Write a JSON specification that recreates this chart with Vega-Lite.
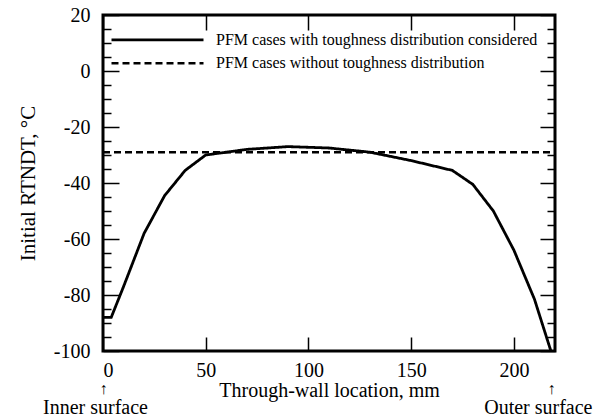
{
  "$schema": "https://vega.github.io/schema/vega-lite/v6.json",
  "width": 452,
  "height": 336,
  "autosize": {"type": "none"},
  "padding": {"left": 103, "top": 15, "right": 38, "bottom": 66},
  "background": "white",
  "config": {
    "font": "Liberation Serif",
    "view": {"stroke": "black", "strokeWidth": 3},
    "axis": {"grid": false, "domain": false, "tickColor": "black", "labelColor": "black", "titleColor": "black", "labelFont": "Liberation Serif", "titleFont": "Liberation Serif", "titleFontWeight": "normal", "labelFontSize": 20, "titleFontSize": 20, "tickWidth": 1.5},
    "legend": {"labelFont": "Liberation Serif", "labelFontSize": 16, "labelColor": "black", "labelLimit": 0}
  },
  "data": {
    "values": [
      {"series": "PFM cases with toughness distribution considered", "x": 0, "y": -88},
      {"series": "PFM cases with toughness distribution considered", "x": 4, "y": -88},
      {"series": "PFM cases with toughness distribution considered", "x": 10, "y": -77},
      {"series": "PFM cases with toughness distribution considered", "x": 20, "y": -58},
      {"series": "PFM cases with toughness distribution considered", "x": 30, "y": -44.5},
      {"series": "PFM cases with toughness distribution considered", "x": 40, "y": -35.5},
      {"series": "PFM cases with toughness distribution considered", "x": 50, "y": -30},
      {"series": "PFM cases with toughness distribution considered", "x": 60, "y": -29},
      {"series": "PFM cases with toughness distribution considered", "x": 70, "y": -28},
      {"series": "PFM cases with toughness distribution considered", "x": 90, "y": -27},
      {"series": "PFM cases with toughness distribution considered", "x": 110, "y": -27.5},
      {"series": "PFM cases with toughness distribution considered", "x": 130, "y": -29},
      {"series": "PFM cases with toughness distribution considered", "x": 150, "y": -32},
      {"series": "PFM cases with toughness distribution considered", "x": 170, "y": -35.5},
      {"series": "PFM cases with toughness distribution considered", "x": 180, "y": -40.5},
      {"series": "PFM cases with toughness distribution considered", "x": 190, "y": -50},
      {"series": "PFM cases with toughness distribution considered", "x": 200, "y": -64},
      {"series": "PFM cases with toughness distribution considered", "x": 210, "y": -81.5},
      {"series": "PFM cases with toughness distribution considered", "x": 218, "y": -100},
      {"series": "PFM cases without toughness distribution", "x": 0, "y": -29},
      {"series": "PFM cases without toughness distribution", "x": 220, "y": -29}
    ]
  },
  "resolve": {"scale": {"strokeDash": "independent"}},
  "layer": [
    {
      "transform": [{"filter": "datum.series === 'PFM cases with toughness distribution considered'"}],
      "mark": {"type": "line", "color": "black", "strokeWidth": 2.8},
      "encoding": {
        "x": {"field": "x", "type": "quantitative", "scale": {"domain": [0, 220], "nice": false, "zero": false},
          "axis": {"orient": "bottom", "values": [0, 50, 100, 150, 200], "tickSize": -14, "labelPadding": 23, "labelExpr": "toString(datum.value)", "title": "Through-wall location, mm", "titlePadding": 0}},
        "y": {"field": "y", "type": "quantitative", "scale": {"domain": [-100, 20], "nice": false, "zero": false},
          "axis": {"orient": "left", "values": [-100, -80, -60, -40, -20, 0, 20], "tickSize": -16, "labelPadding": 29, "labelExpr": "toString(datum.value)", "title": "Initial RTNDT, °C", "titleFontSize": 21, "titlePadding": 15}},
        "strokeDash": {"field": "series", "type": "nominal",
          "scale": {"domain": ["PFM cases with toughness distribution considered"], "range": [[1, 0]]},
          "legend": {"title": null, "orient": "none", "legendX": 7, "legendY": -22.7, "symbolType": "stroke", "symbolSize": 8464, "symbolStrokeWidth": 2.8, "symbolStrokeColor": "black", "labelOffset": 11, "padding": 0}}
      }
    },
    {
      "transform": [{"filter": "datum.series === 'PFM cases without toughness distribution'"}],
      "mark": {"type": "line", "color": "black", "strokeWidth": 2.5},
      "encoding": {
        "x": {"field": "x", "type": "quantitative", "axis": null},
        "y": {"field": "y", "type": "quantitative", "axis": null},
        "strokeDash": {"field": "series", "type": "nominal",
          "scale": {"domain": ["PFM cases without toughness distribution"], "range": [[7, 4]]},
          "legend": {"title": null, "orient": "none", "legendX": 7, "legendY": 0.7, "symbolType": "stroke", "symbolSize": 8464, "symbolStrokeWidth": 2.5, "symbolStrokeColor": "black", "labelOffset": 11, "padding": 0}}
      }
    },
    {
      "mark": {"type": "point", "opacity": 0},
      "encoding": {
        "x": {"field": "x", "type": "quantitative", "axis": {"orient": "top", "values": [0, 50, 100, 150, 200], "tickSize": -15, "labels": false, "title": null}},
        "y": {"field": "y", "type": "quantitative", "axis": {"orient": "right", "values": [-100, -80, -60, -40, -20, 0, 20], "tickSize": -15, "labels": false, "title": null}}
      }
    },
    {
      "mark": {"type": "point", "opacity": 0},
      "encoding": {
        "x": {"field": "x", "type": "quantitative", "axis": null},
        "y": {"field": "y", "type": "quantitative", "axis": {"orient": "left", "values": [-95, -90, -85, -75, -70, -65, -55, -50, -45, -35, -30, -25, -15, -10, -5, 5, 10, 15], "tickSize": -8, "labels": false, "title": null}}
      }
    },
    {
      "mark": {"type": "point", "opacity": 0},
      "encoding": {
        "x": {"field": "x", "type": "quantitative", "axis": null},
        "y": {"field": "y", "type": "quantitative", "axis": {"orient": "right", "values": [-95, -90, -85, -75, -70, -65, -55, -50, -45, -35, -30, -25, -15, -10, -5, 5, 10, 15], "tickSize": -8, "labels": false, "title": null}}
      }
    },
    {
      "mark": {"type": "point", "opacity": 0},
      "encoding": {
        "x": {"field": "x", "type": "quantitative", "axis": {"orient": "bottom", "values": [0], "labelExpr": "'Inner surface'", "ticks": false, "labelPadding": 46, "labelOffset": -8, "labelFlush": false, "labelBound": false, "labelOverlap": false, "title": null}},
        "y": {"field": "y", "type": "quantitative", "axis": null}
      }
    },
    {
      "mark": {"type": "point", "opacity": 0},
      "encoding": {
        "x": {"field": "x", "type": "quantitative", "axis": {"orient": "bottom", "values": [220], "labelExpr": "'Outer surface'", "ticks": false, "labelPadding": 46, "labelAlign": "right", "labelOffset": 37, "labelFlush": false, "labelBound": false, "labelOverlap": false, "title": null}},
        "y": {"field": "y", "type": "quantitative", "axis": null}
      }
    },
    {
      "mark": {"type": "point", "opacity": 0},
      "encoding": {
        "x": {"field": "x", "type": "quantitative", "axis": {"orient": "bottom", "values": [0, 218], "labelExpr": "'↑'", "ticks": false, "labelPadding": 29, "labelFontSize": 16, "labelFlush": false, "labelBound": false, "labelOverlap": false, "title": null}},
        "y": {"field": "y", "type": "quantitative", "axis": null}
      }
    }
  ]
}
